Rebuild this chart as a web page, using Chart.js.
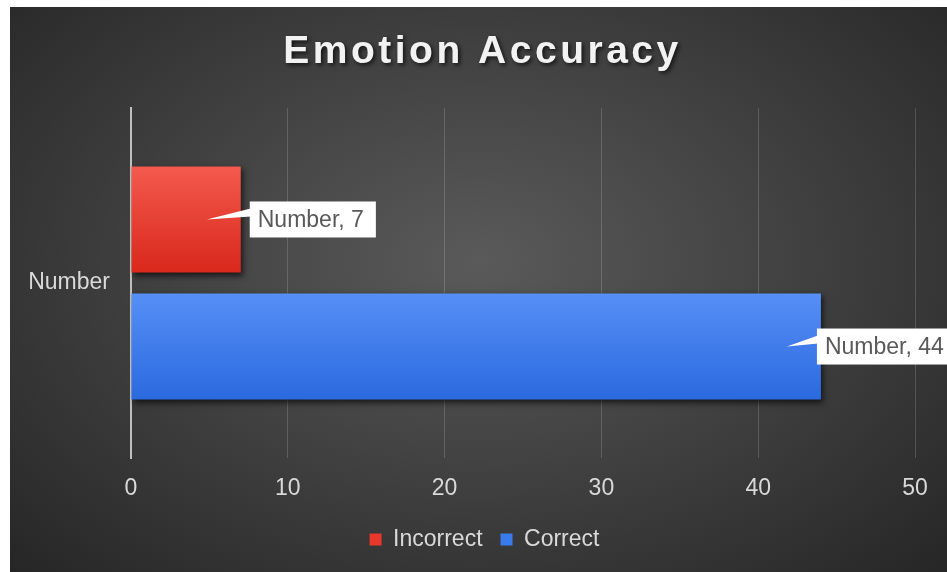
<!DOCTYPE html>
<html>
<head>
<meta charset="utf-8">
<script src="https://cdn.jsdelivr.net/npm/chart.js@4"></script>
<style>
  body { margin: 0; background: #fff; }
  #wrap {
    position: absolute; left: 10px; top: 7px; width: 937px; height: 565px;
    background: radial-gradient(ellipse farthest-corner at 50% 45%, #5a5a5a 0%, #262626 100%);
  }
</style>
</head>
<body>
<div id="wrap"><canvas id="chart" width="937" height="565"></canvas></div>
<script>
const categories = ['Number'];
const seriesNames = ['Incorrect', 'Correct'];
const incorrectValues = [7];
const correctValues = [44];
const xTicks = [0, 10, 20, 30, 40, 50];

const fontFamily = '"Liberation Sans", Arial, sans-serif';
const gradStops = [
    ['#f35a4d', '#d9281c'],
    ['#568ff6', '#2b69df']
];

// title with letter spacing + shadow
const titlePlugin = {
    id: 'titleText',
    afterDraw(chart) {
        const ctx = chart.ctx;
        ctx.save();
        ctx.font = 'bold 39px ' + fontFamily;
        ctx.letterSpacing = '3.5px';
        ctx.textAlign = 'center';
        ctx.textBaseline = 'middle';
        ctx.shadowColor = 'rgba(0,0,0,0.7)';
        ctx.shadowBlur = 4;
        ctx.shadowOffsetX = 2;
        ctx.shadowOffsetY = 2;
        ctx.fillStyle = '#f2f2f2';
        ctx.fillText('Emotion Accuracy', chart.width / 2 + 4, 45);
        ctx.restore();
    }
};

// legend is centred on the whole canvas, not on the padded area
const legendShift = {
    id: 'legendShift',
    afterLayout(chart) {
        chart.legend.left += 22;
        chart.legend.right += 22;
    }
};

// vertical gradient fill per bar, plus drop shadow
const barStyle = {
    id: 'barStyle',
    beforeDatasetsDraw(chart) {
        const ctx = chart.ctx;
        chart.data.datasets.forEach((ds, i) => {
            chart.getDatasetMeta(i).data.forEach(el => {
                const top = el.y - el.height / 2;
                const g = ctx.createLinearGradient(0, top, 0, top + el.height);
                g.addColorStop(0, gradStops[i][0]);
                g.addColorStop(1, gradStops[i][1]);
                el.options.backgroundColor = g;
            });
        });
        ctx.save();
        ctx.shadowColor = 'rgba(0,0,0,0.65)';
        ctx.shadowBlur = 6;
        ctx.shadowOffsetX = 2;
        ctx.shadowOffsetY = 3;
    },
    afterDatasetsDraw(chart) {
        chart.ctx.restore();
    }
};

// callout style data labels
const callouts = {
    id: 'callouts',
    afterDatasetsDraw(chart, args, opts) {
        const ctx = chart.ctx;
        ctx.save();
        ctx.font = '23px ' + fontFamily;
        ctx.textBaseline = 'middle';
        chart.data.datasets.forEach((ds, i) => {
            chart.getDatasetMeta(i).data.forEach((el, j) => {
                const text = chart.data.labels[j] + ', ' + ds.data[j];
                const w = ctx.measureText(text).width + 20;
                const h = 36;
                const bx = el.x + opts.shift[i];
                const by = el.y - h / 2;
                ctx.fillStyle = '#ffffff';
                ctx.beginPath();
                ctx.moveTo(el.x - 34, el.y);
                ctx.lineTo(bx + 1, el.y - 11);
                ctx.lineTo(bx + 1, el.y - 3);
                ctx.closePath();
                ctx.fill();
                ctx.fillRect(bx, by, w, h);
                ctx.fillStyle = '#595959';
                ctx.fillText(text, bx + 8, el.y + 1);
            });
        });
        ctx.restore();
    }
};

new Chart(document.getElementById('chart'), {
    type: 'bar',
    data: {
        labels: categories,
        datasets: [
            { label: seriesNames[0], data: incorrectValues, backgroundColor: '#e8382b' },
            { label: seriesNames[1], data: correctValues, backgroundColor: '#3a7bec' }
        ]
    },
    options: {
        indexAxis: 'y',
        responsive: false,
        animation: false,
        categoryPercentage: 0.726,
        barPercentage: 0.835,
        layout: { padding: { top: 101, right: 32, left: 0, bottom: 11 } },
        plugins: {
            title: { display: false },
            tooltip: { enabled: false },
            callouts: { shift: [9, -4] },
            legend: {
                position: 'bottom',
                labels: {
                    color: '#d9d9d9',
                    font: { size: 23, family: fontFamily },
                    boxWidth: 12,
                    boxHeight: 12,
                    padding: 18
                }
            }
        },
        scales: {
            x: {
                min: 0,
                max: 50,
                afterBuildTicks: s => { s.ticks = xTicks.map(v => ({ value: v })); },
                afterFit: s => { s.height = 52; },
                grid: { color: 'rgba(255,255,255,0.16)', drawTicks: false },
                border: { display: false },
                ticks: { color: '#d9d9d9', font: { size: 23, family: fontFamily }, padding: 17 }
            },
            y: {
                afterFit: s => { s.width = 121; },
                grid: { display: false },
                border: { color: '#bfbfbf', width: 2 },
                ticks: { color: '#d9d9d9', font: { size: 23, family: fontFamily }, padding: 13 }
            }
        }
    },
    plugins: [titlePlugin, legendShift, barStyle, callouts]
});
</script>
</body>
</html>
